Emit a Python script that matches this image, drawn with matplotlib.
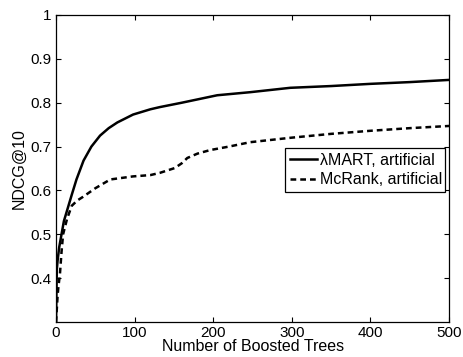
import matplotlib.pyplot as plt

plt.rcParams['font.family'] = ['Liberation Sans', 'DejaVu Sans']

# number of boosted trees / NDCG@10
lm_trees = [0, 1, 2, 4, 7, 10, 15, 20, 26, 35, 45, 56, 67, 78, 98, 120, 132,
            160, 205, 247, 298, 350, 400, 450, 500]
lm_ndcg = [0.30, 0.42, 0.44, 0.47, 0.50, 0.53, 0.56, 0.59, 0.625, 0.668, 0.70,
           0.725, 0.742, 0.755, 0.773, 0.785, 0.79, 0.80, 0.817, 0.824, 0.834,
           0.838, 0.843, 0.847, 0.852]

mc_trees = [0, 1, 2, 3, 5, 7, 9, 14, 20, 27, 34, 50, 69, 98, 120, 132, 151,
            160, 167, 180, 196, 220, 247, 298, 350, 400, 450, 500]
mc_ndcg = [0.30, 0.33, 0.36, 0.38, 0.41, 0.46, 0.50, 0.535, 0.565, 0.577,
           0.585, 0.605, 0.625, 0.632, 0.635, 0.64, 0.651, 0.662, 0.674, 0.684,
           0.692, 0.700, 0.71, 0.72, 0.729, 0.736, 0.742, 0.747]

xticks = [0, 100, 200, 300, 400, 500]
yticks = [0.4, 0.5, 0.6, 0.7, 0.8, 0.9, 1]
ytick_labels = ['0.4', '0.5', '0.6', '0.7', '0.8', '0.9', '1']

fig = plt.figure(figsize=(4.63, 3.57), dpi=100)
ax = fig.add_axes([0.121, 0.098, 0.849, 0.860])

ax.plot(lm_trees, lm_ndcg, color='black', lw=1.8, label='λMART, artificial')
ax.plot(mc_trees, mc_ndcg, color='black', lw=1.8, ls=(0, (2.3, 1.6)),
        label='McRank, artificial')

ax.set_xlim(0, 500)
ax.set_ylim(0.3, 1)
ax.set_xticks(xticks)
ax.set_yticks(yticks)
ax.set_yticklabels(ytick_labels)
ax.tick_params(direction='in', top=True, right=True, length=3.5, width=0.8,
               labelsize=11, pad=3)
for s in ax.spines.values():
    s.set_linewidth(0.9)

ax.set_xlabel('Number of Boosted Trees', fontsize=11.5, labelpad=-1)
ax.set_ylabel('NDCG@10', fontsize=11.5, labelpad=3)

leg = ax.legend(loc='lower left', bbox_to_anchor=(0.583, 0.423, 0.407, 0.147),
                mode='expand', fontsize=11.5, handlelength=1.7, handletextpad=0.2,
                borderaxespad=0, borderpad=0.3, labelspacing=0.3,
                fancybox=False, framealpha=1, edgecolor='black')
leg.get_frame().set_linewidth(0.9)

fig.savefig('out.png', dpi=100)
